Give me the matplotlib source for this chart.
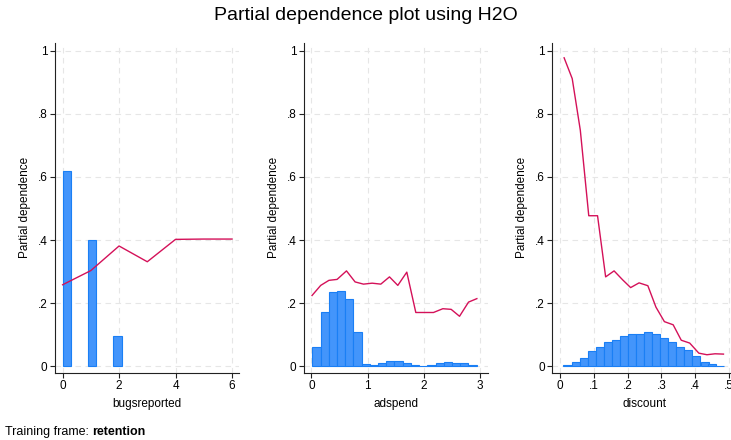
import matplotlib
matplotlib.use("Agg")
import matplotlib.pyplot as plt

plt.rcParams['font.family'] = ['Liberation Sans', 'DejaVu Sans']

# bugsreported
bugs_bin_left = [0.0, 0.9, 1.8]
bugs_hist = [0.618, 0.401, 0.097]
bugs_x = [0, 1, 2, 3, 4, 5, 6]
bugs_pd = [0.258, 0.303, 0.381, 0.331, 0.402, 0.403, 0.403]

# adspend
ad_bin_left = [0.018, 0.164, 0.310, 0.456, 0.602, 0.748, 0.894, 1.040, 1.186, 1.332,
               1.478, 1.624, 1.770, 1.916, 2.062, 2.208, 2.354, 2.500, 2.646, 2.792]
ad_hist = [0.059, 0.173, 0.234, 0.239, 0.214, 0.109, 0.008, 0.005, 0.009, 0.015,
           0.015, 0.011, 0.005, 0.001, 0.004, 0.011, 0.012, 0.011, 0.011, 0.004]
ad_x = [0.013, 0.167, 0.313, 0.458, 0.625, 0.778, 0.927, 1.081, 1.235, 1.389,
        1.537, 1.697, 1.857, 2.011, 2.171, 2.337, 2.485, 2.634, 2.794, 2.942]
ad_pd = [0.224, 0.256, 0.272, 0.275, 0.302, 0.267, 0.260, 0.263, 0.260, 0.283,
         0.256, 0.298, 0.170, 0.170, 0.170, 0.182, 0.180, 0.158, 0.203, 0.214]

# discount
disc_bin_left = [0.010, 0.034, 0.058, 0.082, 0.105, 0.129, 0.153, 0.177, 0.201, 0.225,
                 0.249, 0.272, 0.296, 0.320, 0.344, 0.368, 0.392, 0.416, 0.439, 0.463]
disc_hist = [0.002, 0.012, 0.026, 0.047, 0.061, 0.076, 0.084, 0.097, 0.103, 0.103,
             0.107, 0.101, 0.090, 0.075, 0.061, 0.050, 0.031, 0.014, 0.007, 0.001]
disc_x = [0.012, 0.036, 0.060, 0.085, 0.111, 0.135, 0.160, 0.185, 0.209, 0.234,
          0.260, 0.284, 0.309, 0.335, 0.359, 0.384, 0.411, 0.435, 0.459, 0.484]
disc_pd = [0.978, 0.912, 0.748, 0.477, 0.477, 0.283, 0.302, 0.274, 0.249, 0.264,
           0.255, 0.187, 0.141, 0.131, 0.082, 0.073, 0.041, 0.036, 0.039, 0.038]

yticks = [0, 0.2, 0.4, 0.6, 0.8, 1]
ytick_labels = ['0', '.2', '.4', '.6', '.8', '1']

panels = [
    dict(name='bugsreported', left=bugs_bin_left, hist=bugs_hist, width=0.3,
         x=bugs_x, pd=bugs_pd, xlim=(-0.27, 6.25),
         xticks=[0, 2, 4, 6], xlabels=['0', '2', '4', '6'], pos=55),
    dict(name='adspend', left=ad_bin_left, hist=ad_hist, width=0.146,
         x=ad_x, pd=ad_pd, xlim=(-0.13, 3.14),
         xticks=[0, 1, 2, 3], xlabels=['0', '1', '2', '3'], pos=304),
    dict(name='discount', left=disc_bin_left, hist=disc_hist, width=0.0239,
         x=disc_x, pd=disc_pd, xlim=(-0.023, 0.522),
         xticks=[0, 0.1, 0.2, 0.3, 0.4, 0.5],
         xlabels=['0', '.1', '.2', '.3', '.4', '.5'], pos=552.3),
]

W, H = 731, 440
fig = plt.figure(figsize=(W / 100, H / 100), dpi=100)

axes = []
for p in panels:
    ax = fig.add_axes([p['pos'] / W, (H - 372.7) / H, 184 / W, (372.7 - 43) / H])
    ax.bar(p['left'], p['hist'], width=p['width'], align='edge',
           color='#4395fb', edgecolor='#1a7ff5', linewidth=0.8, zorder=2)
    ax.plot(p['x'], p['pd'], color='#d41159', linewidth=1.0, zorder=3)
    ax.set_xlim(*p['xlim'])
    ax.set_ylim(-0.021, 1.025)
    ax.set_yticks(yticks)
    ax.set_yticklabels(ytick_labels)
    ax.set_xticks(p['xticks'])
    ax.set_xticklabels(p['xlabels'])
    ax.grid(True, color='#e6e6e6', linestyle=(0, (5, 4)), linewidth=0.8, zorder=0)
    ax.set_axisbelow(True)
    for s in ['top', 'right']:
        ax.spines[s].set_visible(False)
    for s in ['left', 'bottom']:
        ax.spines[s].set_color('#222222')
        ax.spines[s].set_linewidth(0.8)
    ax.tick_params(length=3.5, width=0.8, color='#222222', labelsize=8.5, pad=2)
    ax.set_ylabel('Partial dependence', fontsize=8.5, labelpad=5)
    ax.set_xlabel(p['name'], fontsize=8.5, labelpad=4)
    axes.append(ax)

fig.suptitle('Partial dependence plot using H2O', x=0.5, y=1 - 15 / H,
             fontsize=14, va='center')

t1 = fig.text(5 / W, 1 - 432 / H, 'Training frame: ', fontsize=9, va='center')
axes[0].annotate('retention', xy=(1, 0.5), xycoords=t1, va='center', ha='left',
                 fontsize=9, fontweight='bold', annotation_clip=False)

fig.savefig('out.png', dpi=100)
